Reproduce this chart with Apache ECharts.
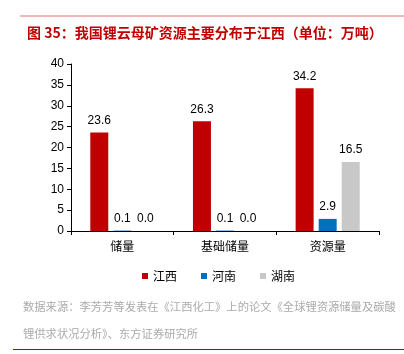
<!DOCTYPE html>
<html><head><meta charset="utf-8">
<script src="https://cdn.jsdelivr.net/npm/echarts@6/dist/echarts.min.js"></script>
<style>html,body{margin:0;padding:0;background:#fff}#c{width:404px;height:354px}</style>
</head><body><div id="c"></div>
<script>
const categories = ['储量', '基础储量', '资源量'];
const jiangxi = [23.6, 26.3, 34.2];
const henan = [0.1, 0.1, 2.9];
const hunan = [0.0, 0.0, 16.5];
const yTicks = [0, 5, 10, 15, 20, 25, 30, 35, 40];
const FONT = '"Liberation Sans", Arial, "Noto Sans CJK SC", sans-serif';
const CJK = '"Noto Sans CJK SC", sans-serif';
const chart = echarts.init(document.getElementById('c'));
const lbl = {show: true, position: 'top', color: '#000', fontSize: 12, fontFamily: FONT, distance: 6,
  formatter: p => p.value.toFixed(1)};
chart.setOption({
  animation: false,
  textStyle: {fontFamily: FONT},
  title: {text: '图 35：我国锂云母矿资源主要分布于江西（单位：万吨）', left: 22, top: 21,
    textStyle: {color: '#c00000', fontSize: 14, fontWeight: 'bold', fontFamily: CJK}},
  grid: {left: 71, right: 25, top: 64, bottom: 123},
  legend: {bottom: 67, left: 137, itemWidth: 6, itemHeight: 6, itemGap: 24, icon: 'rect',
    textStyle: {fontSize: 12, color: '#000', fontFamily: CJK},
    data: ['江西', '河南', '湖南']},
  xAxis: {type: 'category', data: categories,
    axisLine: {lineStyle: {color: '#000', width: 1}},
    axisTick: {show: true, length: 4, lineStyle: {color: '#000'}},
    axisLabel: {color: '#000', fontSize: 12, margin: 9, fontFamily: CJK}},
  yAxis: {type: 'value', min: yTicks[0], max: yTicks[yTicks.length - 1], interval: 5,
    axisLine: {show: true, lineStyle: {color: '#000'}},
    axisTick: {show: true, length: 4, lineStyle: {color: '#000'}},
    splitLine: {show: false},
    axisLabel: {color: '#000', fontSize: 12, margin: 7}},
  series: [
    {name: '江西', type: 'bar', data: jiangxi, barWidth: 18, barGap: '28%', itemStyle: {color: '#c00000'}, label: lbl},
    {name: '河南', type: 'bar', data: henan, barWidth: 18, itemStyle: {color: '#0070c0'}, label: lbl},
    {name: '湖南', type: 'bar', data: hunan, barWidth: 18, itemStyle: {color: '#c8c8c8'}, label: lbl}
  ],
  graphic: [
    {type: 'line', shape: {x1: 20, y1: 16, x2: 404, y2: 16}, style: {stroke: '#e07070', lineWidth: 1}},
    {type: 'line', shape: {x1: 13, y1: 349.5, x2: 404, y2: 349.5}, style: {stroke: '#c00000', lineWidth: 1}},
    {type: 'text', left: 23, top: 301, style: {text: '数据来源：李芳芳等发表在《江西化工》上的论文《全球锂资源储量及碳酸', fill: '#ababab', fontSize: 11.3, fontFamily: CJK}},
    {type: 'text', left: 23, top: 328, style: {text: '锂供求状况分析》、东方证券研究所', fill: '#ababab', fontSize: 11.3, fontFamily: CJK}}
  ]
});
</script></body></html>
